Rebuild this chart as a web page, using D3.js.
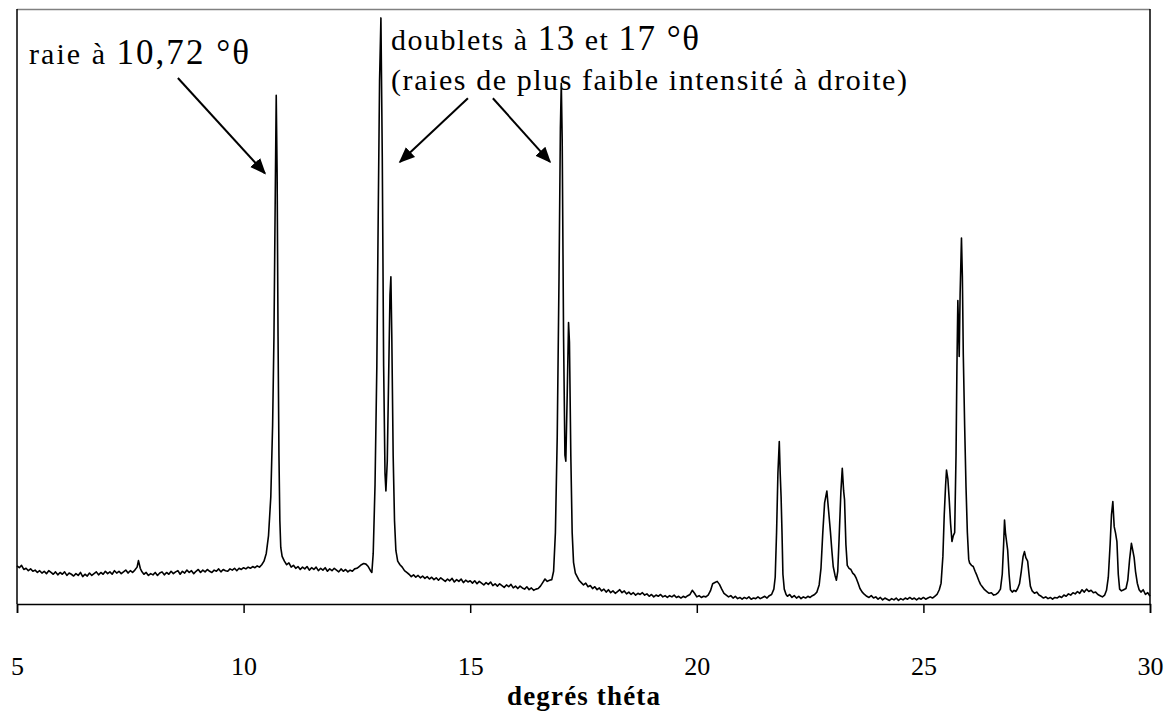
<!DOCTYPE html>
<html><head><meta charset="utf-8">
<script src="https://cdn.jsdelivr.net/npm/d3@7"></script>
<style>body{margin:0;background:#fff}svg{display:block}</style>
</head><body>
<svg id="chart" width="1167" height="712"></svg>
<script>
// ---- data ----
const xTickValues = [5, 10, 15, 20, 25, 30];
const xTitle = "degrés théta";
// diffractogram: [theta (°), intensity (arbitrary, 0..100 = frame height)]
const pattern = [
[5.00,6.4],[5.05,6.1],[5.10,6.5],[5.15,5.8],[5.20,6.0],[5.25,5.6],[5.30,5.9],[5.35,5.5],[5.40,5.7],[5.45,5.3],
[5.50,5.6],[5.55,5.2],[5.60,5.5],[5.65,5.1],[5.70,5.6],[5.75,5.3],[5.80,5.0],[5.85,5.4],[5.90,4.9],[5.95,5.3],
[6.00,5.0],[6.05,5.4],[6.10,4.8],[6.15,5.2],[6.20,5.0],[6.25,4.7],[6.30,5.1],[6.35,4.8],[6.40,5.3],[6.45,4.6],
[6.50,5.0],[6.55,4.7],[6.60,5.2],[6.65,4.8],[6.70,5.1],[6.75,5.4],[6.80,4.9],[6.85,5.3],[6.90,5.0],[6.95,5.5],
[7.00,5.1],[7.05,5.4],[7.10,5.0],[7.15,5.6],[7.20,5.2],[7.25,5.5],[7.30,5.1],[7.35,5.4],[7.40,5.7],[7.45,5.2],
[7.50,5.6],[7.55,5.3],[7.60,5.7],[7.65,6.2],[7.68,7.3],[7.72,6.0],[7.75,5.5],[7.80,5.0],[7.85,5.3],[7.90,4.8],
[7.95,5.1],[8.00,4.9],[8.05,5.3],[8.10,4.8],[8.15,5.2],[8.20,5.4],[8.25,4.9],[8.30,5.3],[8.35,5.0],[8.40,5.5],
[8.45,5.1],[8.50,5.4],[8.55,5.6],[8.60,5.0],[8.65,5.5],[8.70,5.2],[8.75,5.7],[8.80,5.3],[8.85,5.6],[8.90,5.1],
[8.95,5.5],[9.00,5.8],[9.05,5.3],[9.10,5.7],[9.15,5.4],[9.20,5.8],[9.25,5.5],[9.30,5.3],[9.35,5.7],[9.40,5.5],
[9.45,5.9],[9.50,5.4],[9.55,5.8],[9.60,5.6],[9.65,5.5],[9.70,5.9],[9.75,5.7],[9.80,6.0],[9.85,5.6],[9.90,6.0],
[9.95,5.8],[10.00,6.1],[10.05,5.9],[10.10,6.2],[10.15,6.0],[10.20,6.3],[10.25,6.1],[10.30,6.4],[10.35,6.2],[10.40,6.6],
[10.45,7.2],[10.50,8.5],[10.55,11.5],[10.60,18],[10.64,30],[10.67,45],[10.70,70],[10.72,85.5],[10.74,72],[10.76,45],
[10.78,25],[10.80,14],[10.82,9.5],[10.85,8],[10.90,7.2],[10.95,6.6],[11.00,6.9],[11.05,6.2],[11.10,6.5],[11.15,6.0],
[11.20,6.3],[11.25,5.8],[11.30,6.2],[11.35,5.9],[11.40,6.3],[11.45,5.7],[11.50,6.1],[11.55,5.8],[11.60,6.2],[11.65,5.6],
[11.70,6.0],[11.75,5.7],[11.80,6.1],[11.85,5.5],[11.90,5.9],[11.95,5.6],[12.00,6.0],[12.05,5.7],[12.10,5.4],[12.15,5.9],
[12.20,5.5],[12.25,5.8],[12.30,5.4],[12.35,5.7],[12.40,5.5],[12.45,5.9],[12.50,6.0],[12.55,6.3],[12.60,6.6],[12.65,6.8],
[12.70,6.7],[12.75,6.3],[12.80,5.6],[12.83,5.3],[12.86,8.5],[12.90,20],[12.94,40],[12.97,65],[13.00,88],[13.03,98.5],
[13.06,75],[13.09,40],[13.12,22],[13.14,19],[13.17,24],[13.20,38],[13.23,52],[13.25,55],[13.27,45],[13.30,25],
[13.33,14],[13.36,9],[13.40,7.2],[13.45,6.6],[13.50,6.2],[13.55,5.6],[13.60,5.3],[13.65,5.0],[13.70,4.6],[13.75,4.9],
[13.80,4.5],[13.85,4.8],[13.90,4.4],[13.95,4.7],[14.00,4.3],[14.05,4.6],[14.10,4.2],[14.15,4.5],[14.20,4.1],[14.25,4.4],
[14.30,4.0],[14.35,4.4],[14.40,4.1],[14.45,3.8],[14.50,4.2],[14.55,3.9],[14.60,4.3],[14.65,3.7],[14.70,4.1],[14.75,3.8],
[14.80,4.2],[14.85,3.6],[14.90,4.0],[14.95,3.7],[15.00,3.9],[15.05,3.5],[15.10,3.9],[15.15,3.4],[15.20,3.8],[15.25,3.5],
[15.30,3.2],[15.35,3.6],[15.40,3.3],[15.45,3.7],[15.50,3.1],[15.55,3.4],[15.60,3.0],[15.65,3.4],[15.70,3.1],[15.75,2.8],
[15.80,3.2],[15.85,2.9],[15.90,3.3],[15.95,2.7],[16.00,3.0],[16.05,2.6],[16.10,3.0],[16.15,2.7],[16.20,2.5],[16.25,2.9],
[16.30,2.4],[16.35,2.7],[16.40,2.3],[16.45,2.5],[16.50,2.6],[16.55,3.0],[16.60,3.6],[16.65,4.2],[16.70,3.8],[16.75,4.0],
[16.80,4.1],[16.84,5.5],[16.88,12],[16.92,28],[16.96,55],[16.99,80],[17.01,87.5],[17.03,78],[17.06,45],[17.09,25],
[17.11,24],[17.14,35],[17.17,47.3],[17.19,44],[17.22,25],[17.25,12],[17.28,7],[17.32,5.2],[17.36,4.6],[17.40,4.0],
[17.45,3.6],[17.50,3.2],[17.55,3.5],[17.60,2.9],[17.65,3.1],[17.70,2.6],[17.75,2.9],[17.80,2.4],[17.85,2.7],[17.90,2.2],
[17.95,2.5],[18.00,2.0],[18.05,2.4],[18.10,1.9],[18.15,2.2],[18.20,1.8],[18.25,2.1],[18.30,2.4],[18.35,1.9],[18.40,2.2],
[18.45,1.7],[18.50,2.0],[18.55,1.6],[18.60,1.9],[18.65,1.5],[18.70,1.8],[18.75,1.6],[18.80,1.9],[18.85,1.5],[18.90,1.7],
[18.95,1.3],[19.00,1.6],[19.05,1.2],[19.10,1.5],[19.15,1.3],[19.20,1.6],[19.25,1.2],[19.30,1.4],[19.35,1.1],[19.40,1.4],
[19.45,1.2],[19.50,1.5],[19.55,1.1],[19.60,1.3],[19.65,1.0],[19.70,1.3],[19.75,1.1],[19.80,1.4],[19.85,1.6],[19.90,2.3],
[19.95,1.8],[20.00,1.2],[20.05,1.4],[20.10,1.1],[20.15,1.3],[20.20,1.2],[20.25,1.5],[20.30,2.2],[20.35,3.4],[20.40,3.6],
[20.45,3.8],[20.50,3.3],[20.55,2.5],[20.60,1.8],[20.65,1.5],[20.70,1.2],[20.75,1.4],[20.80,1.0],[20.85,1.3],[20.90,0.9],
[20.95,1.1],[21.00,0.8],[21.05,1.1],[21.10,0.9],[21.15,1.2],[21.20,0.8],[21.25,1.0],[21.30,0.9],[21.35,1.2],[21.40,0.9],
[21.45,1.1],[21.50,1.3],[21.55,1.0],[21.60,1.4],[21.65,1.6],[21.70,2.5],[21.73,4.5],[21.76,12],[21.79,22],[21.82,27.3],
[21.84,22],[21.86,18],[21.88,12],[21.90,5],[21.93,2.5],[21.97,1.6],[22.00,1.3],[22.05,1.6],[22.10,1.1],[22.15,1.4],
[22.20,1.0],[22.25,1.3],[22.30,0.9],[22.35,1.2],[22.40,1.0],[22.45,1.3],[22.50,1.1],[22.55,1.4],[22.60,1.6],[22.65,2.0],
[22.70,3.2],[22.74,6],[22.78,12],[22.82,17],[22.87,19],[22.91,15.5],[22.95,12],[22.98,9],[23.01,6.3],[23.05,4.8],
[23.08,4.0],[23.11,5.5],[23.14,11],[23.18,19],[23.21,22.8],[23.24,19],[23.26,17.5],[23.29,10],[23.32,6.5],[23.36,6.0],
[23.40,5.8],[23.44,5.2],[23.48,4.9],[23.52,4.3],[23.56,3.5],[23.60,2.6],[23.65,2.0],[23.70,1.6],[23.75,1.3],[23.80,1.1],
[23.85,1.4],[23.90,1.0],[23.95,1.2],[24.00,0.8],[24.05,1.1],[24.10,0.7],[24.15,1.0],[24.20,0.8],[24.25,0.6],[24.30,0.9],
[24.35,0.7],[24.40,1.0],[24.45,0.6],[24.50,0.9],[24.55,0.7],[24.60,1.0],[24.65,0.8],[24.70,1.1],[24.75,0.8],[24.80,1.0],
[24.85,0.7],[24.90,1.0],[24.95,0.8],[25.00,1.1],[25.05,0.8],[25.10,1.0],[25.15,1.2],[25.20,1.0],[25.25,1.3],[25.30,1.6],
[25.35,2.4],[25.39,3.5],[25.43,8],[25.46,15],[25.49,20],[25.51,22.5],[25.54,21],[25.57,17.5],[25.60,13.5],[25.63,10.5],
[25.66,11.5],[25.69,12],[25.72,25],[25.74,40],[25.76,51],[25.78,45],[25.79,41.6],[25.81,52],[25.84,61.5],[25.86,55],
[25.88,42],[25.91,30],[25.94,19.7],[25.97,12],[26.00,7.5],[26.02,6.9],[26.06,6.5],[26.10,6.3],[26.14,5.5],[26.18,4.8],
[26.22,4.0],[26.26,3.3],[26.30,2.9],[26.35,2.4],[26.40,2.1],[26.45,1.8],[26.50,1.9],[26.55,1.5],[26.60,1.6],[26.65,1.9],
[26.70,2.5],[26.74,5],[26.77,10],[26.79,14.1],[26.81,12],[26.83,10.8],[26.86,9],[26.89,5],[26.92,2.4],[26.96,2.0],
[27.00,2.3],[27.04,2.1],[27.08,2.6],[27.12,3.4],[27.16,5.5],[27.20,8],[27.23,8.8],[27.26,7.8],[27.30,7.2],[27.33,5],
[27.36,3],[27.40,2.2],[27.45,1.8],[27.50,2.0],[27.55,1.5],[27.60,1.3],[27.65,1.0],[27.70,1.2],[27.75,0.9],[27.80,1.1],
[27.85,0.8],[27.90,1.1],[27.95,1.0],[28.00,1.3],[28.05,1.1],[28.10,1.5],[28.15,1.3],[28.20,1.7],[28.25,1.5],[28.30,1.9],
[28.35,1.7],[28.40,2.1],[28.45,1.8],[28.50,2.4],[28.55,2.0],[28.60,2.5],[28.65,2.1],[28.70,2.3],[28.75,1.9],[28.80,2.0],
[28.85,1.6],[28.90,1.4],[28.95,1.2],[29.00,1.5],[29.04,2.3],[29.08,4.5],[29.12,10],[29.15,15],[29.18,17.2],[29.21,13],
[29.24,11.9],[29.27,10.5],[29.30,5],[29.33,2.5],[29.37,2.2],[29.42,2.4],[29.47,2.6],[29.51,4],[29.55,7.5],[29.59,10.2],
[29.62,9],[29.65,7.8],[29.68,5.5],[29.72,3.5],[29.76,2.4],[29.80,2.0],[29.85,2.4],[29.90,1.6],[29.95,1.9],[30.00,1.3]
];
// annotation texts: segments [text, large?]
const noteRaie = [["raie à ", false], ["10,72 °θ", true]];
const noteDoubletLine1 = [["doublets à ", false], ["13", true], [" et ", false], ["17 °θ", true]];
const noteDoubletLine2 = "(raies de plus faible intensité à droite)";
// arrows in data units: [theta0, I0, theta1, I1] (tail -> head)
const arrows = [
  [8.55, 88.4, 10.47, 72.4],
  [14.95, 85.0, 13.45, 74.3],
  [15.50, 85.0, 16.76, 74.3]
];

// ---- layout ----
const mLeft = 17, mRight = 1150, mTop = 9, mBottom = 604;
const svg = d3.select("#chart");
const FONT = "'Liberation Serif','Times New Roman',serif";

const x = d3.scaleLinear().domain([5, 30]).range([mLeft, mRight]);
const y = d3.scaleLinear().domain([0, 100]).range([mBottom, mTop]);

svg.append("defs").append("marker")
  .attr("id", "ah").attr("viewBox", "0 0 10 10").attr("refX", 9).attr("refY", 5)
  .attr("markerWidth", 16).attr("markerHeight", 16).attr("markerUnits", "userSpaceOnUse")
  .attr("orient", "auto")
  .append("path").attr("d", "M0,0.8 L10,5 L0,9.2 Z").attr("fill", "#000");

// frame
svg.append("line").attr("x1", mLeft).attr("x2", mRight).attr("y1", mTop + 0.5).attr("y2", mTop + 0.5)
  .attr("stroke", "#808080").attr("stroke-width", 1.5);
svg.append("line").attr("x1", mLeft).attr("x2", mLeft).attr("y1", mTop).attr("y2", mBottom)
  .attr("stroke", "#000").attr("stroke-width", 1.5);
svg.append("line").attr("x1", mRight).attr("x2", mRight).attr("y1", mTop).attr("y2", mBottom)
  .attr("stroke", "#000").attr("stroke-width", 1.5);

// x axis
const xAxis = d3.axisBottom(x).tickValues(xTickValues).tickSize(9).tickPadding(44).tickFormat(d3.format("d"));
const gx = svg.append("g").attr("transform", `translate(0,${mBottom})`).call(xAxis);
gx.select(".domain").attr("stroke", "#000").attr("stroke-width", 1.5);
gx.selectAll(".tick line").attr("stroke", "#000").attr("stroke-width", 1.5);
gx.selectAll(".tick text").attr("font-family", FONT).attr("font-size", 26).attr("fill", "#000");

// axis title
svg.append("text").attr("x", (mLeft + mRight) / 2).attr("y", 705).attr("text-anchor", "middle")
  .attr("font-family", FONT).attr("font-size", 27).attr("font-weight", "bold")
  .attr("textLength", 153).attr("lengthAdjust", "spacing").text(xTitle);

// spectrum
svg.append("path").datum(pattern)
  .attr("fill", "none").attr("stroke", "#000").attr("stroke-width", 1.6).attr("stroke-linejoin", "round")
  .attr("d", d3.line().x(d => x(d[0])).y(d => y(d[1])));

// annotations
function segText(parts, px, py, len) {
  const t = svg.append("text").attr("x", px).attr("y", py).attr("font-family", FONT).attr("fill", "#000");
  parts.forEach(([s, big]) => t.append("tspan").attr("font-size", big ? 35 : 30).text(s));
  if (len) t.attr("textLength", len).attr("lengthAdjust", "spacing");
  return t;
}
segText(noteRaie, 29, 64, 220);
segText(noteDoubletLine1, 391, 50, 308);
svg.append("text").attr("x", 391).attr("y", 90).attr("font-family", FONT).attr("font-size", 30)
  .attr("textLength", 516).attr("lengthAdjust", "spacing").text(noteDoubletLine2);

svg.selectAll("line.arrow").data(arrows).enter().append("line").attr("class", "arrow")
  .attr("x1", d => x(d[0])).attr("y1", d => y(d[1]))
  .attr("x2", d => x(d[2])).attr("y2", d => y(d[3]))
  .attr("stroke", "#000").attr("stroke-width", 2).attr("marker-end", "url(#ah)");
</script>
</body></html>
